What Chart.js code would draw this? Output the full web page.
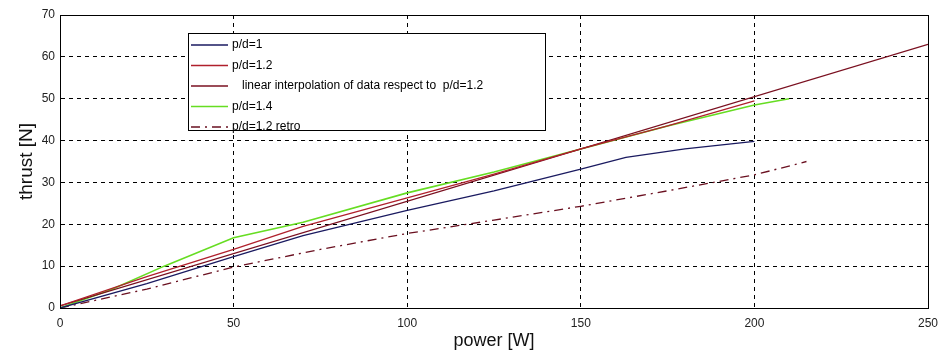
<!DOCTYPE html>
<html lang="en">
<head>
    <meta charset="UTF-8">
    <title>thrust vs power</title>
    <style>
        body { margin: 0; background: #fff; }
        #wrap { width: 943px; height: 356px; }
    </style>
</head>
<body>
<div id="wrap"><canvas id="thrustChart"></canvas></div>

<script src="https://cdn.jsdelivr.net/npm/chart.js"></script>
<script>
    // values (power [W], thrust [N])
    const pd1Power = [0, 25, 50, 70, 100, 125, 150, 163, 180, 200];
    const pd1Thrust = [0, 5.8, 12.3, 17.3, 23.3, 28, 33.2, 36, 38, 39.8];

    const pd12Power = [0, 25, 50, 70, 100, 125, 150, 175, 200];
    const pd12Thrust = [0.5, 7.5, 14, 19.5, 26.3, 32, 38, 43.5, 49.5];

    const linPower = [0, 250];
    const linThrust = [0.5, 63];

    const pd14Power = [0, 15, 30, 50, 70, 100, 125, 150, 175, 200, 210];
    const pd14Thrust = [0, 4.5, 10, 16.8, 20.5, 27.5, 32.5, 38, 43.5, 48.5, 50];

    const retroPower = [0, 25, 50, 75, 100, 125, 150, 175, 200, 215];
    const retroThrust = [0, 4.5, 9.8, 14, 17.8, 21, 24.3, 28, 31.8, 35];

    const seriesLabels = ['p/d=1', 'p/d=1.2', '   linear interpolation of data respect to  p/d=1.2', 'p/d=1.4', 'p/d=1.2 retro'];
    const xTicks = [0, 50, 100, 150, 200, 250];
    const yTicks = [0, 10, 20, 30, 40, 50, 60, 70];

    function toPoints(xs, ys) {
        return xs.map((x, i) => ({ x: x, y: ys[i] }));
    }

    const FONT = '"Liberation Sans", Arial, sans-serif';

    // legend box drawn inside the plot, MATLAB style
    const boxLegend = {
        id: 'boxLegend',
        afterDraw(chart) {
            const ctx = chart.ctx;
            const a = chart.chartArea;
            const left = a.left + 128, top = a.top + 18;
            const w = 357, h = 97;
            ctx.save();
            ctx.fillStyle = '#fff';
            ctx.fillRect(left, top, w, h);
            ctx.strokeStyle = '#000';
            ctx.lineWidth = 1;
            ctx.strokeRect(left + 0.5, top + 0.5, w, h);
            ctx.font = '12px ' + FONT;
            ctx.textBaseline = 'middle';
            chart.data.datasets.forEach((ds, i) => {
                const y = top + 12 + i * 20.5;
                ctx.beginPath();
                ctx.setLineDash(ds.borderDash || []);
                ctx.strokeStyle = ds.borderColor;
                ctx.lineWidth = ds.borderWidth;
                ctx.moveTo(left + 3, y);
                ctx.lineTo(left + 40, y);
                ctx.stroke();
                ctx.setLineDash([]);
                ctx.fillStyle = '#000';
                ctx.fillText(ds.label, left + 44, y);
            });
            ctx.restore();
        }
    };

    // full frame around the plot
    const frame = {
        id: 'frame',
        afterDatasetsDraw(chart) {
            const ctx = chart.ctx;
            const a = chart.chartArea;
            ctx.save();
            ctx.strokeStyle = '#000';
            ctx.lineWidth = 1;
            ctx.strokeRect(Math.round(a.left) + 0.5, Math.round(a.top) + 0.5, Math.round(a.right - a.left), Math.round(a.bottom - a.top));
            ctx.restore();
        }
    };

    const config = {
        type: 'line',
        data: {
            datasets: [
                { label: seriesLabels[0], data: toPoints(pd1Power, pd1Thrust), borderColor: '#1a1a60', borderWidth: 1.3 },
                { label: seriesLabels[1], data: toPoints(pd12Power, pd12Thrust), borderColor: '#b0202c', borderWidth: 1.3 },
                { label: seriesLabels[2], data: toPoints(linPower, linThrust), borderColor: '#7a1020', borderWidth: 1.3 },
                { label: seriesLabels[3], data: toPoints(pd14Power, pd14Thrust), borderColor: '#66dd22', borderWidth: 1.6 },
                { label: seriesLabels[4], data: toPoints(retroPower, retroThrust), borderColor: '#6a1020', borderWidth: 1.3, borderDash: [9, 5, 2, 5] }
            ]
        },
        options: {
            responsive: true,
            maintainAspectRatio: false,
            animation: false,
            layout: { padding: { top: 15, right: 15, left: 11, bottom: 0 } },
            elements: { point: { radius: 0 }, line: { tension: 0, fill: false } },
            plugins: { legend: { display: false }, tooltip: { enabled: false } },
            scales: {
                x: {
                    type: 'linear',
                    min: 0, max: 250,
                    afterBuildTicks: s => { s.ticks = xTicks.map(v => ({ value: v })); },
                    afterFit: s => { s.height = 48; s.paddingRight = 0; s.paddingLeft = 0; },
                    grid: { color: '#000', lineWidth: 1, drawTicks: false },
                    border: { display: true, color: '#000', dash: [4, 4] },
                    ticks: { color: '#222', font: { family: FONT, size: 12 }, padding: 8, maxRotation: 0 },
                    title: { display: true, text: 'power [W]', color: '#111', font: { family: FONT, size: 18 }, padding: { top: 0 } }
                },
                y: {
                    min: 0, max: 70,
                    afterBuildTicks: s => { s.ticks = yTicks.map(v => ({ value: v })); },
                    afterFit: s => { s.width = 49; },
                    grid: { color: '#000', lineWidth: 1, drawTicks: false },
                    border: { display: true, color: '#000', dash: [4, 4] },
                    ticks: { color: '#222', font: { family: FONT, size: 12 }, padding: 5 },
                    title: { display: true, text: 'thrust [N]', color: '#111', font: { family: FONT, size: 19 }, padding: { bottom: 2 } }
                }
            }
        },
        plugins: [frame, boxLegend]
    };

    window.onload = function () {
        const ctx = document.getElementById('thrustChart').getContext('2d');
        window.thrustChart = new Chart(ctx, config);
    };
</script>
</body>
</html>
